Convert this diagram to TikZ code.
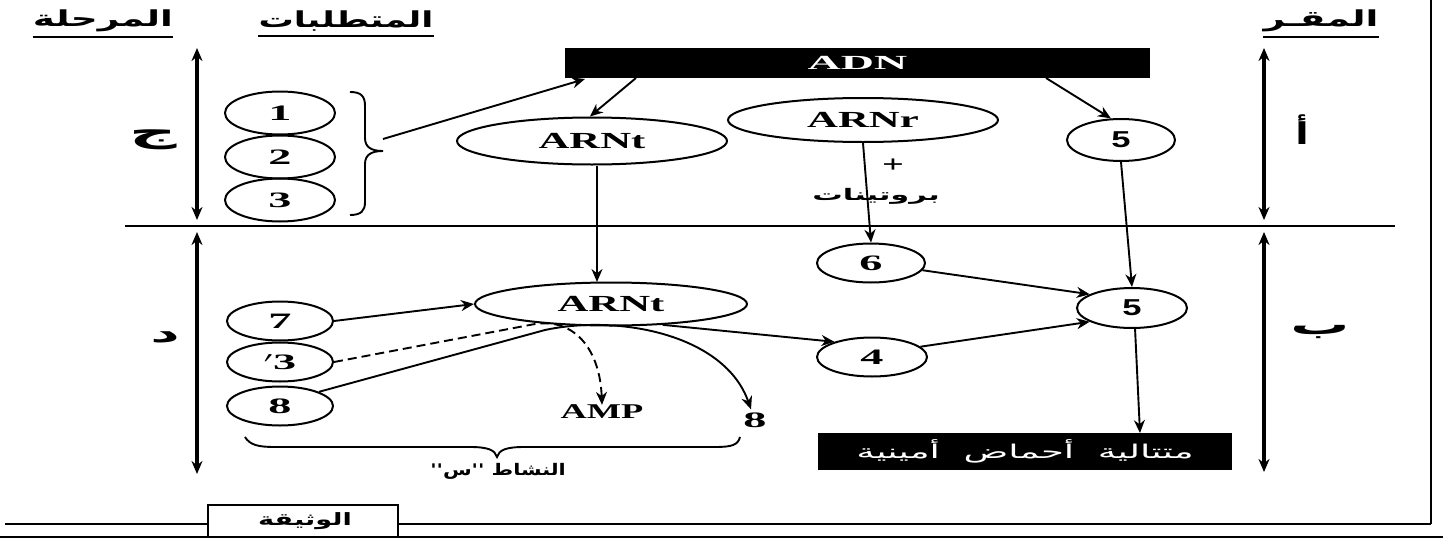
\documentclass[tikz,border=0pt]{standalone}
\usepackage{fontspec}
\usepackage{graphicx}
\setmainfont{Liberation Serif}
\newfontfamily\ar[Script=Arabic]{DejaVu Sans}
\newfontfamily\hv{Liberation Sans}
\TeXXeTstate=1
\usetikzlibrary{shapes.geometric,arrows.meta,calc}
\newcommand\hsx[2]{\scalebox{#1}[1]{#2}}
\tikzset{
  el/.style={draw, ellipse, line width=2pt, inner sep=0pt, font=\bfseries\fontsize{22}{22}\selectfont},
  arr/.style={-{Stealth[length=13pt,width=11pt]}, line width=1.9pt},
  dbl/.style={{Stealth[length=13pt,width=11pt]}-{Stealth[length=13pt,width=11pt]}, line width=3.2pt},
  artext/.style={inner sep=0pt, font=\ar\bfseries\fontsize{22}{26}\selectfont},
  lat/.style={inner sep=0pt, font=\bfseries\fontsize{21}{21}\selectfont},
  blk/.style={fill=black, inner sep=0pt},
}
\begin{document}
\begin{tikzpicture}[x=1pt,y=-1pt]
\useasboundingbox (0,0) rectangle (1443,538);
% frame lines
\draw[line width=2.2pt] (1431,0) -- (1431,524);
\draw[line width=1.8pt] (5,524) -- (208,524);
\draw[line width=1.8pt] (398,524) -- (1431,524);
\draw[line width=2.2pt] (208,537) -- (208,505) -- (398,505) -- (398,537);
\draw[line width=2.8pt] (0,537) -- (1443,537);
\node[artext, font=\ar\bfseries\fontsize{17}{20}\selectfont] (doc) at (305,521) {\hsx{1.6}{\beginR الوثيقة\endR}};
% separator
\draw[line width=1.8pt] (125,226) -- (1395,226);
% headers
\node[artext] (h1) at (103,21) {\hsx{1.7}{\beginR المرحلة\endR}};
\node[artext] (h2) at (346,21) {\hsx{1.6}{\beginR المتطلبات\endR}};
\node[artext] (h3) at (1321,21) {\hsx{1.7}{\beginR المقـر\endR}};
\foreach \h in {h1,h2,h3}{\draw[line width=2pt] ($(\h.south west)+(0,5)$) -- ($(\h.south east)+(0,5)$);}
% phase arrows
\coordinate (la1) at (197,48); \coordinate (la2) at (197,220);
\coordinate (la3) at (197,232); \coordinate (la4) at (197,474);
\coordinate (ra1) at (1264,48); \coordinate (ra2) at (1264,220);
\coordinate (ra3) at (1264,232); \coordinate (ra4) at (1264,472);
\draw[dbl] (la1) -- (la2);
\draw[dbl] (la3) -- (la4);
\draw[dbl] (ra1) -- (ra2);
\draw[dbl] (ra3) -- (ra4);
\node[artext, font=\ar\bfseries\fontsize{30}{30}\selectfont] (lj) at (153,140) {\hsx{2.2}{\beginR ج\endR}};
\node[artext, font=\ar\bfseries\fontsize{26}{26}\selectfont] (ld) at (165,337) {\hsx{2.2}{\beginR د\endR}};
\node[artext, font=\ar\bfseries\fontsize{30}{30}\selectfont] (la) at (1302,130) {\hsx{1.3}{\beginR أ\endR}};
\node[artext, font=\ar\bfseries\fontsize{28}{28}\selectfont] (lb) at (1320,332) {\hsx{2.1}{\beginR ب\endR}};
% requirement ellipses (top)
\foreach \n/\y/\t in {n1/113/1, n2/157/2, n3/200/3}{
  \node[el, minimum width=110, minimum height=43] (\n) at (280,\y) {\hsx{2.1}{\t}};
}
% brace right of 1-3
\coordinate (bt) at (383,151);
\draw[line width=1.9pt] (350,92) .. controls (361,92) and (365,96) .. (365,106) -- (365,138)
  .. controls (365,147) and (371,151) .. (bt) .. controls (371,151) and (365,155) .. (365,164)
  -- (365,202) .. controls (365,211) and (361,215) .. (350,215);
% ADN
\node[blk, minimum width=585, minimum height=30, text=white, font=\bfseries\fontsize{20}{20}\selectfont] (ADN) at (857.5,63) {\hsx{2.3}{ADN}};
\coordinate (adnA) at (585,79);
\coordinate (adnB) at (636,78);
\coordinate (adnC) at (1046,78);
\draw[arr] ($(bt)+(0,-12)$) -- (adnA);
% ARNt top, ARNr, 5
\node[el, minimum width=270, minimum height=47, font=\bfseries\fontsize{23}{23}\selectfont] (ARNt1) at (592,141) {\hsx{1.86}{ARNt}};
\node[el, minimum width=270, minimum height=44, font=\bfseries\fontsize{23}{23}\selectfont] (ARNr) at (863,120) {\hsx{1.86}{ARNr}};
\node[el, minimum width=108, minimum height=42, font=\hv\bfseries\fontsize{23}{23}\selectfont] (five1) at (1121,140) {\hsx{1.5}{5}};
\draw[arr] (adnB) -- (ARNt1.95);
\draw[arr] (adnC) -- (five1.115);
\node[lat, font=\bfseries\fontsize{24}{24}\selectfont] (plus) at (893,166) {\hsx{1.6}{+}};
\node[artext, font=\ar\bfseries\fontsize{16}{20}\selectfont] (prot) at (876,196) {\hsx{1.9}{\beginR بروتينات\endR}};
% lower part
\node[el, minimum width=108, minimum height=39] (six) at (871,263) {\hsx{2.1}{6}};
\node[el, minimum width=272, minimum height=43, font=\bfseries\fontsize{23}{23}\selectfont] (ARNt2) at (611,304) {\hsx{1.86}{ARNt}};
\node[el, minimum width=110, minimum height=39] (four) at (872,357) {\hsx{2.1}{4}};
\node[el, minimum width=110, minimum height=40, font=\hv\bfseries\fontsize{23}{23}\selectfont] (five2) at (1132,308) {\hsx{1.5}{5}};
\node[blk, minimum width=414, minimum height=37, text=white, font=\ar\fontsize{19}{22}\selectfont] (box) at (1025,451) {\hsx{1.95}{\beginR متتالية\ \ أحماض\ \ أمينية\endR}};
\coordinate (t1) at (597,166);
\coordinate (t2) at (597,282);
\draw[arr] (t1) -- (t2);
\draw[arr] (ARNr.south) -- (six.north);
\draw[arr] (five1.south) -- (five2.north);
\draw[arr] (six.-8) -- (five2.162);
\draw[arr] (ARNt2.-22) -- (four.158);
\draw[arr] (four.12) -- (five2.198);
\coordinate (b1) at (1135,328);
\coordinate (b2) at (1140,433);
\draw[arr] (b1) -- (b2);
% left requirement ellipses (bottom)
\foreach \n/\y/\t in {n7/321/7, n8/406/8}{
  \node[el, minimum width=106, minimum height=39] (\n) at (280,\y) {\hsx{2.1}{\t}};
}
\node[el, minimum width=106, minimum height=39] (n3p) at (280,362) {\hsx{2.1}{$^{\prime}$3}};
\node[lat] (amp) at (602,412) {\hsx{1.73}{AMP}};
\node[lat, font=\bfseries\fontsize{22}{22}\selectfont] (eight) at (755,420) {\hsx{2.1}{8}};
\coordinate (dk) at (535,324);
\coordinate (sk) at (545,330);
\draw[arr] (n7.east) -- (ARNt2.west);
\draw[arr, dashed, dash pattern=on 9pt off 5pt] (n3p.east) -- (dk) .. controls (575,318) and (600,350) .. (amp.north);
\draw[arr] (n8.20) -- (sk) .. controls (620,314) and (725,335) .. ($(eight.north)+(-4,-3)$);
% bottom brace
\coordinate (bb) at (497,457);
\draw[line width=1.9pt] (245,437) .. controls (250,445) and (258,447) .. (275,447) -- (470,447)
  .. controls (488,447) and (495,450) .. (bb) .. controls (499,450) and (506,447) .. (524,447)
  -- (715,447) .. controls (732,447) and (738,445) .. (740,437);
\node[artext, font=\ar\bfseries\fontsize{16}{20}\selectfont] (act) at (498,471) {\hsx{1.3}{\beginR النشاط ''س''\endR}};
\end{tikzpicture}
\end{document}
